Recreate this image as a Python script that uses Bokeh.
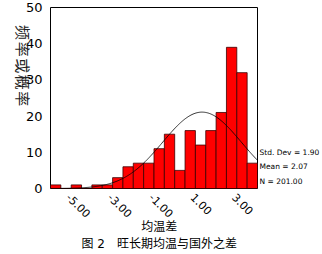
import math
import numpy as np
from bokeh.plotting import figure
from bokeh.models import LinearAxis, FixedTicker
from bokeh.embed import file_html
from bokeh.resources import INLINE

# data
bin_centers = [-5.0, -4.5, -4.0, -3.5, -3.0, -2.5, -2.0, -1.5, -1.0, -0.5,
               0.0, 0.5, 1.0, 1.5, 2.0, 2.5, 3.0, 3.5, 4.0, 4.5]
counts = [1, 0, 1, 0, 1, 1, 3, 6, 7, 7, 11, 15, 5, 16, 12, 16, 21, 39, 32, 7]
bin_width = 0.5
std_dev = 1.90
mean = 2.07
n_total = 201.00
x_ticks = [-5.0, -3.0, -1.0, 1.0, 3.0]
y_ticks = [0, 10, 20, 30, 40, 50]
stats_text = ["Std. Dev = 1.90", "Mean = 2.07", "N = 201.00"]
stats_pos = [10, 6, 2]
y_label_chars = ["频", "率", "或", "概", "率"]
y_label_pos = [41.0, 36.4, 31.8, 27.3, 22.7]
x_label = "均温差"
caption = "图 2　旺长期均温与国外之差"
text_anchor_x = 0.0

CJK = "DejaVu Sans, Noto Sans CJK SC"
W, H = 322, 254
x0 = bin_centers[0] - bin_width / 2
x1 = bin_centers[-1] + bin_width / 2

p = figure(width=W, height=H, x_range=(x0, x1), y_range=(0, 50),
           output_backend="svg", toolbar_location=None,
           min_border_left=50, min_border_right=61, min_border_top=7,
           min_border_bottom=66)
p.grid.visible = False
p.outline_line_color = "black"
p.outline_line_width = 1
p.background_fill_color = "white"
p.border_fill_color = "white"

lefts = [c - bin_width / 2 for c in bin_centers]
rights = [c + bin_width / 2 for c in bin_centers]
p.quad(left=lefts, right=rights, bottom=0, top=counts,
       fill_color="#ff0000", line_color="#3a0000", line_width=0.8)

# fitted normal curve from stated statistics
xs = np.linspace(x0, x1, 200)
ys = n_total * bin_width / (std_dev * math.sqrt(2 * math.pi)) * np.exp(-0.5 * ((xs - mean) / std_dev) ** 2)
p.line(xs, ys, line_color="black", line_width=0.8)


def plain(ax):
    ax.axis_line_color = None
    ax.major_tick_line_color = None
    ax.minor_tick_line_color = None
    ax.major_label_text_color = "black"
    ax.major_tick_in = 0
    ax.major_tick_out = 0
    ax.minor_tick_in = 0
    ax.minor_tick_out = 0
    ax.axis_label_standoff = 0


plain(p.xaxis[0])
plain(p.yaxis[0])

p.yaxis.ticker = FixedTicker(ticks=y_ticks)
p.yaxis[0].major_label_text_font = "DejaVu Sans"
p.yaxis[0].major_label_text_font_size = "13px"
p.yaxis[0].major_label_standoff = 8

# x tick labels: rotated, nudged along their direction with leading no-break spaces
xa = p.xaxis[0]
p.xaxis.ticker = FixedTicker(ticks=x_ticks)
xa.major_label_text_font = "DejaVu Sans"
xa.major_label_text_font_size = "11px"
xa.major_label_orientation = -math.pi / 4
pad = ""
title_standoff = 0
try:
    xa.major_label_standoff = -5
    pad = "\u00a0" * 5
    title_standoff = -9
except Exception:
    xa.major_label_standoff = 3
xa.major_label_overrides = {t: pad + f"{t:.2f}" for t in x_ticks}

# y title, one character per tick, rotated clockwise
ylab = LinearAxis(ticker=FixedTicker(ticks=y_label_pos),
                  major_label_overrides={v: c for v, c in zip(y_label_pos, y_label_chars)},
                  major_label_orientation=-math.pi / 2,
                  major_label_text_font=CJK,
                  major_label_text_font_size="15px",
                  major_label_standoff=1)
plain(ylab)
ylab.major_label_text_color = "#222222"
p.add_layout(ylab, "left")

# stats block at right
stats = LinearAxis(ticker=FixedTicker(ticks=stats_pos),
                   major_label_overrides={v: t for v, t in zip(stats_pos, stats_text)},
                   major_label_text_font="DejaVu Sans",
                   major_label_text_font_size="7.5px",
                   major_label_standoff=2)
plain(stats)
p.add_layout(stats, "right")

# x title and caption below
xt = LinearAxis(ticker=FixedTicker(ticks=[text_anchor_x]),
                major_label_overrides={text_anchor_x: x_label},
                major_label_text_font=CJK,
                major_label_text_font_size="12px")
plain(xt)
try:
    xt.major_label_standoff = title_standoff
except Exception:
    xt.major_label_standoff = 0
p.add_layout(xt, "below")

cap = LinearAxis(ticker=FixedTicker(ticks=[text_anchor_x]),
                 major_label_overrides={text_anchor_x: caption},
                 major_label_text_font=CJK,
                 major_label_text_font_size="12px",
                 major_label_standoff=0)
plain(cap)
p.add_layout(cap, "below")

open("out.html", "w").write(file_html(p, INLINE))
